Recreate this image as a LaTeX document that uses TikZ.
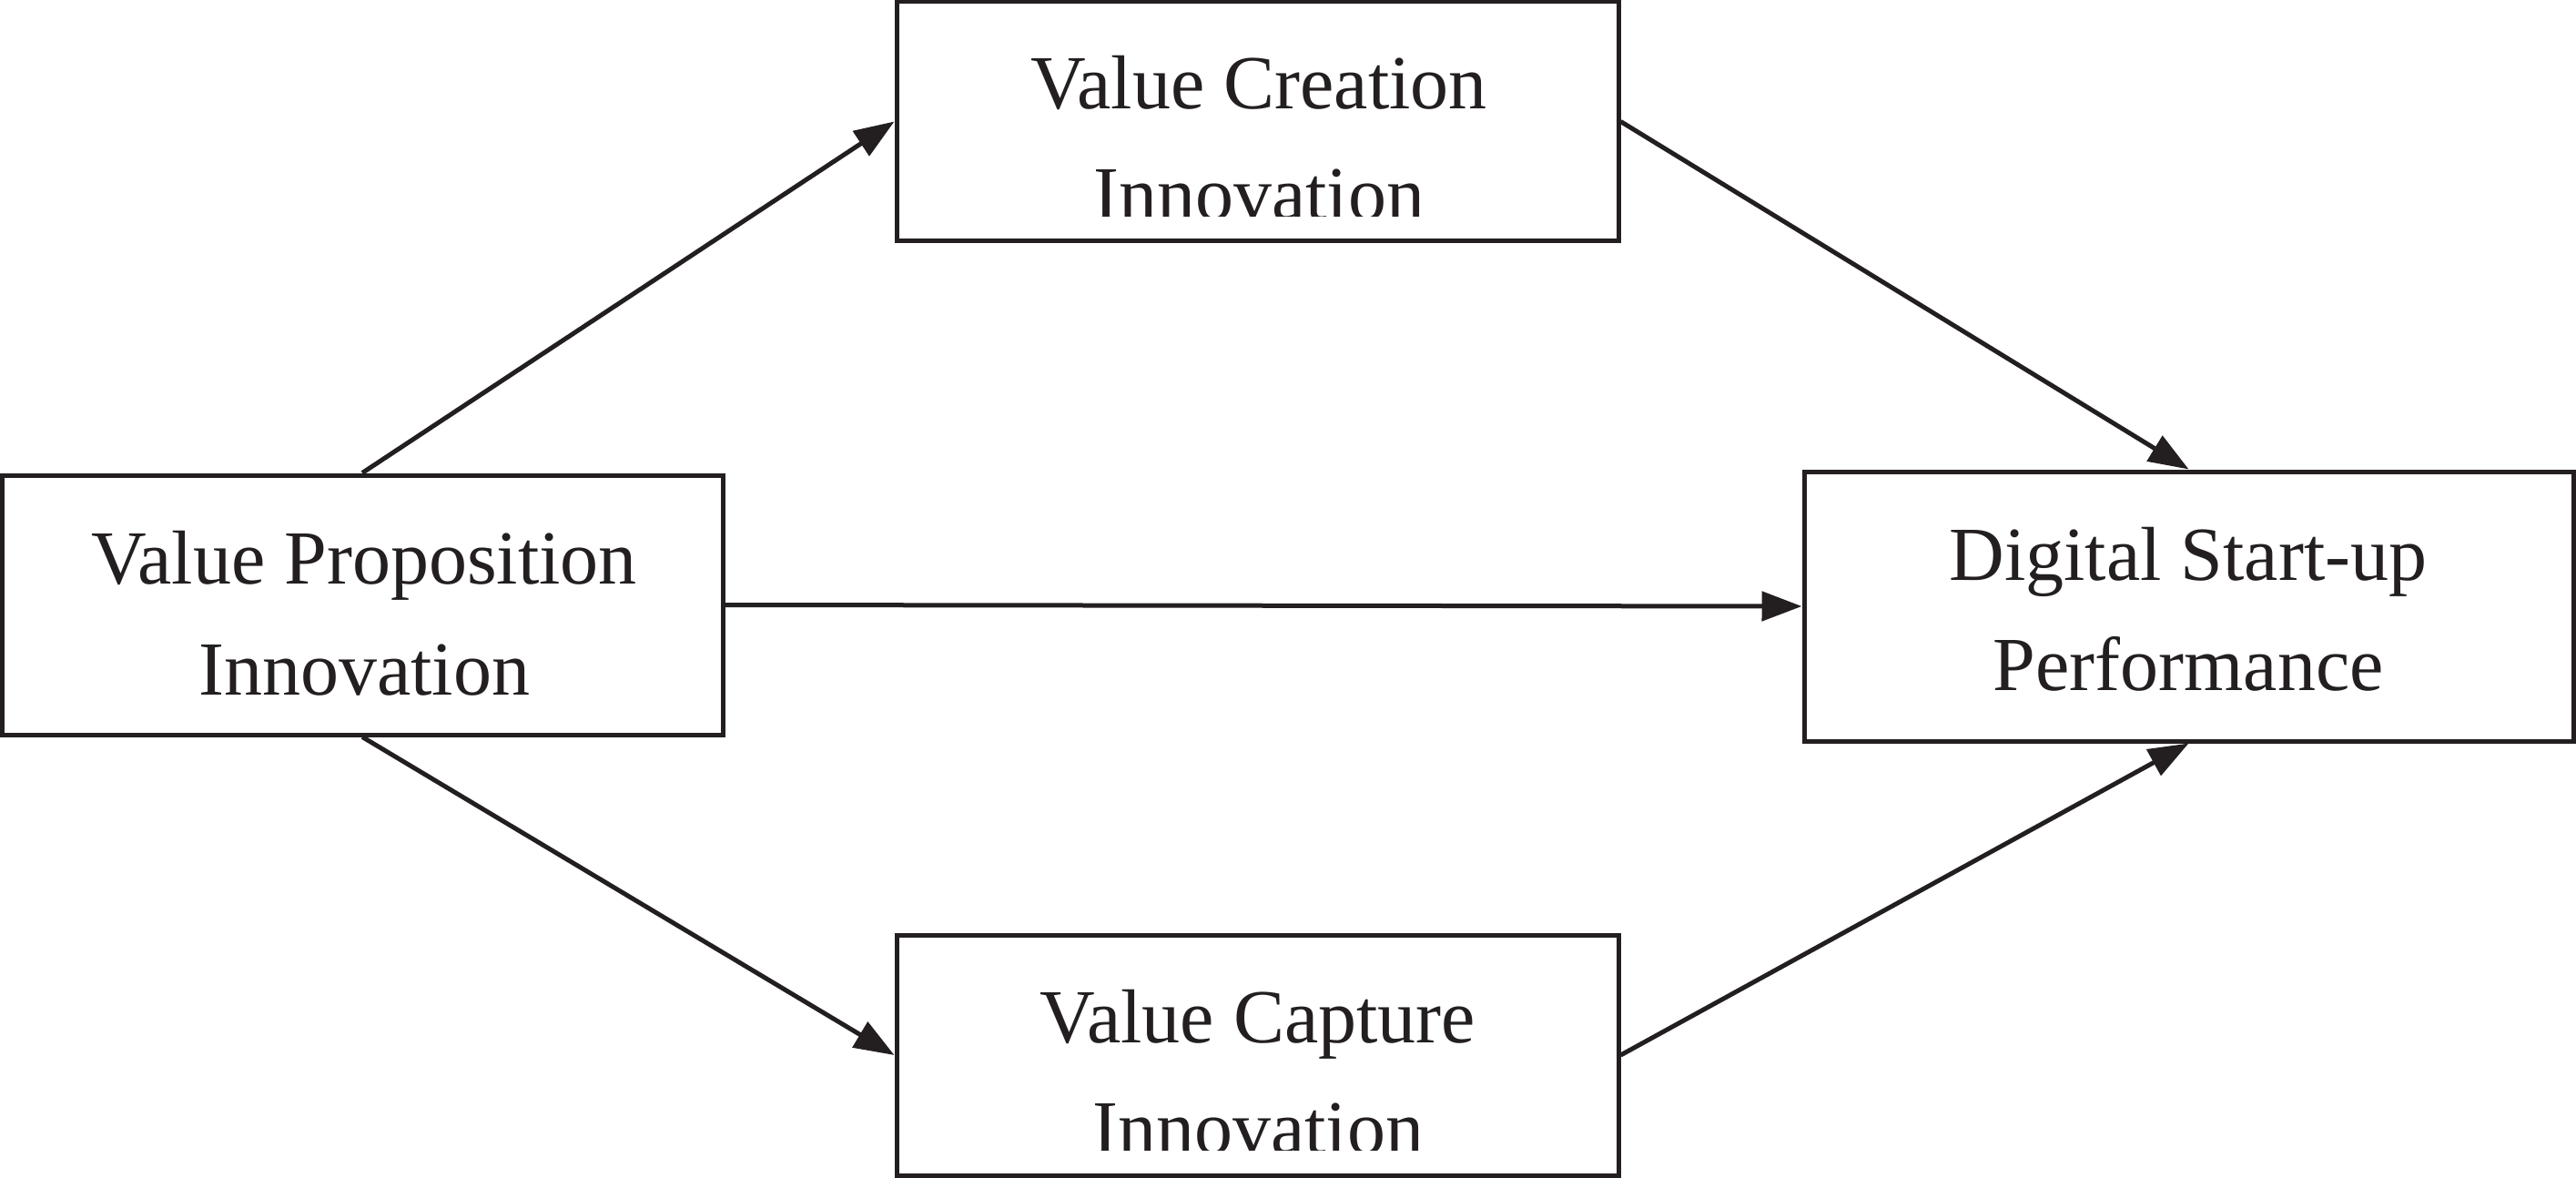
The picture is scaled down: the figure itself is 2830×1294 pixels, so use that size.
\documentclass[tikz,border=0pt]{standalone}
\usepackage{fontspec}
\setmainfont{Liberation Serif}
\usetikzlibrary{arrows.meta}
\definecolor{ink}{HTML}{231F20}
\tikzset{
  box/.style={draw=ink, line width=1.25pt, inner sep=0pt, rectangle},
  lbl/.style={anchor=base, inner sep=0pt, text=ink, font=\fontsize{21pt}{30.4pt}\selectfont},
  link/.style={draw=ink, line width=1.25pt, -{Triangle[length=11pt,width=8pt]}}
}
\begin{document}
\begin{tikzpicture}[x=0.25pt,y=-0.25pt]
\useasboundingbox (0,0) rectangle (2830,1294);
% boxes
\node[box, minimum width=198.25pt, minimum height=65.75pt] (vc) at (1381.5,133.5) {};
\node[box, minimum width=198pt, minimum height=71.25pt] (vp) at (398,664.5) {};
\node[box, minimum width=211.25pt, minimum height=74pt] (dsp) at (2404.5,666) {};
\node[box, minimum width=198.25pt, minimum height=66pt] (vcap) at (1381.5,1159) {};
% texts
\begin{scope}
\clip (985,2) rectangle (1778,238);
\node[lbl] (vct1) at (1383,120) {Value Creation};
\node[lbl] (vct2) at (1383,242) {Innovation};
\end{scope}
\node[lbl] (vpt1) at (400,642) {Value Proposition};
\node[lbl] (vpt2) at (400,763) {Innovation};
\node[lbl] (dspt1) at (2404,637) {Digital Start-up};
\node[lbl] (dspt2) at (2404,758) {Performance};
\begin{scope}
\clip (985,1027) rectangle (1778,1263);
\node[lbl] (vcapt1) at (1382,1145) {Value Capture};
\node[lbl] (vcapt2) at (1382,1267) {Innovation};
\end{scope}
% connectors
\draw[link] (vp.north) -- (vc.west);
\draw[link] (vc.east) -- (dsp.north);
\draw[link] (vp.east) -- (dsp.west);
\draw[link] (vp.south) -- (vcap.west);
\draw[link] (vcap.east) -- (dsp.south);
\end{tikzpicture}
\end{document}
